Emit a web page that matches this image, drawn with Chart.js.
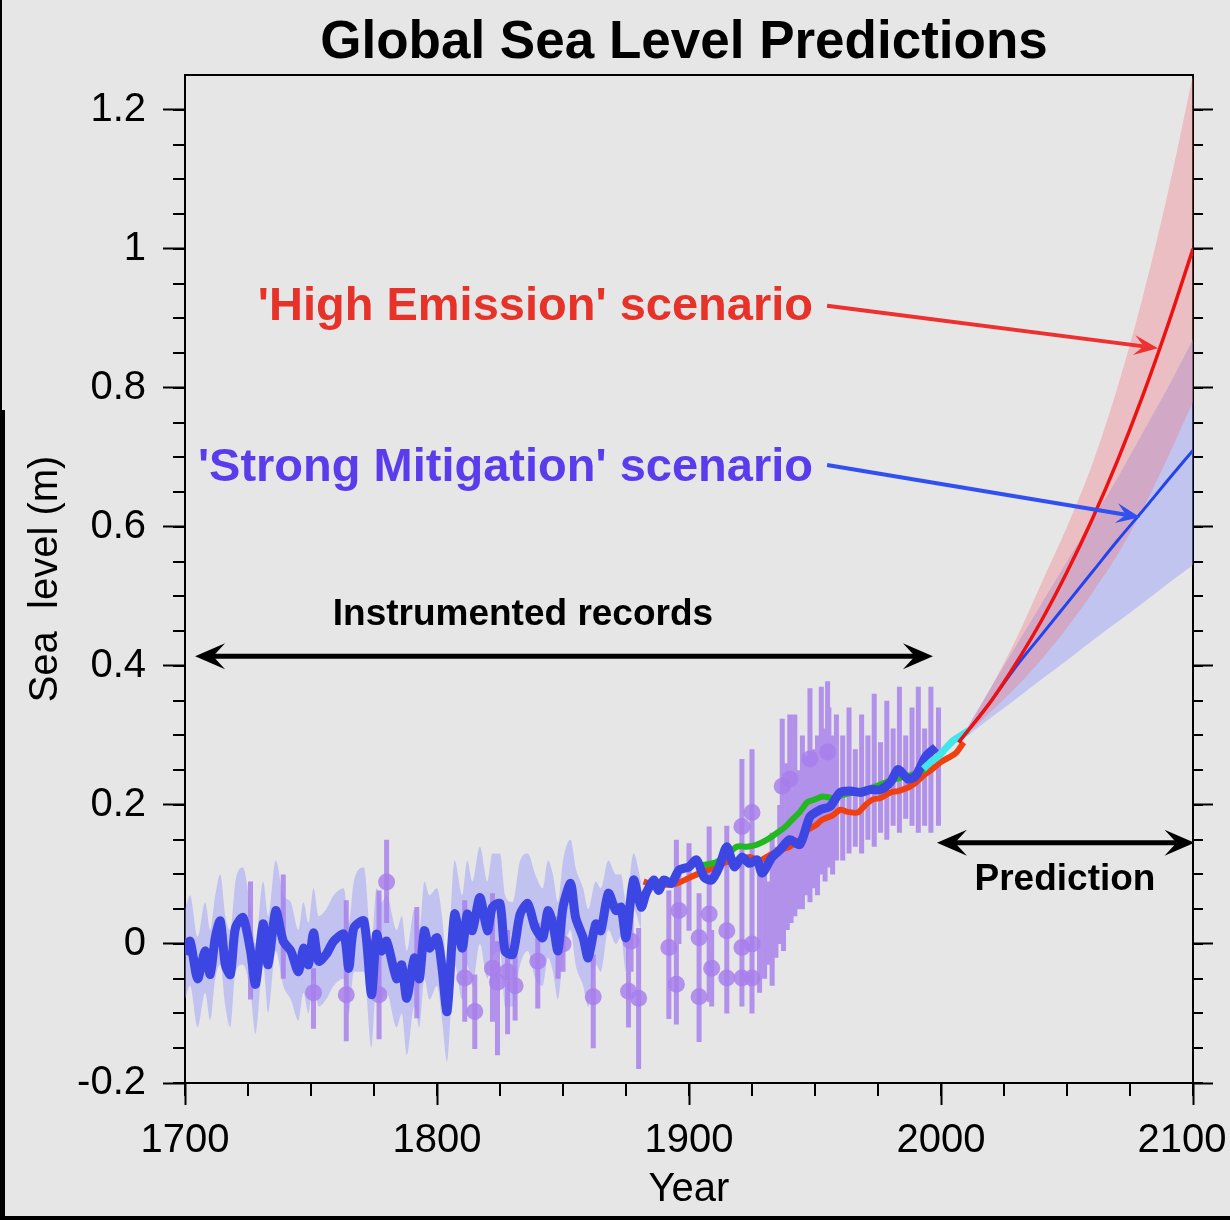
<!DOCTYPE html>
<html>
<head>
<meta charset="utf-8">
<title>Global Sea Level Predictions</title>
<script src="https://cdn.jsdelivr.net/npm/chart.js@4.4.1/dist/chart.umd.min.js"></script>
<style>
  html, body { margin: 0; padding: 0; background: #e6e6e6; }
  canvas { display: block; }
</style>
</head>
<body>
<canvas id="seaChart" width="1230" height="1220"></canvas>
<script>
// reconstruction + tide gauge (thick blue)
const blueYears = [1700,1702,1705,1708,1710,1712,1714,1716,1718,1720,1723,1726,1728,1731,1733,1736,1739,1742,1745,1747,1749,1751,1753,1756,1759,1763,1765,1767,1771,1774,1776,1778,1780,1784,1786,1788,1791,1793,1795,1797,1800,1802,1804,1807,1810,1812,1814,1817,1820,1822,1825,1827,1830,1833,1836,1839,1842,1844,1846,1848,1850,1853,1855,1858,1860,1863,1865,1868,1871,1873,1875,1878,1881,1883,1886,1888,1890,1893,1896,1900,1903,1906,1909,1912,1915,1918,1921,1924,1927,1929,1933,1936,1940,1944,1948,1952,1956,1960,1964,1968,1972,1976,1980,1983,1987,1990,1994,1998];
const blueLevel = [-0.015,0.004,-0.05,-0.01,-0.044,0.009,0.033,-0.03,-0.044,0.023,0.038,-0.01,-0.058,0.029,-0.03,0.048,0.004,-0.01,-0.04,-0.006,-0.03,0.016,-0.025,-0.015,0.004,0.014,-0.035,0.023,0.033,-0.073,0.014,-0.01,0.004,-0.05,-0.03,-0.078,-0.02,-0.05,0.019,-0.006,0.009,-0.035,-0.097,0.043,-0.006,0.043,0.019,0.067,0.019,0.053,0.058,-0.01,-0.015,0.043,0.058,0.023,0.009,0.048,0.029,-0.01,0.053,0.087,0.038,0.009,-0.02,0.029,0.019,0.073,0.048,0.053,0.009,0.092,0.053,0.073,0.092,0.077,0.092,0.087,0.106,0.111,0.121,0.096,0.092,0.111,0.14,0.111,0.125,0.116,0.121,0.102,0.125,0.135,0.15,0.143,0.183,0.193,0.198,0.218,0.22,0.218,0.222,0.222,0.233,0.251,0.237,0.242,0.27,0.283];

// uncertainty band of the reconstruction
const bandYears = [1700,1702,1705,1708,1710,1712,1714,1716,1718,1720,1723,1726,1728,1731,1733,1736,1739,1742,1745,1747,1749,1751,1753,1756,1759,1763,1765,1767,1771,1774,1776,1778,1780,1784,1786,1788,1791,1793,1795,1797,1800,1802,1804,1807,1810,1812,1814,1817,1820,1822,1825,1827,1830,1833,1836,1839,1842,1844,1846,1848,1850,1853,1855,1858,1860,1863,1865,1868,1871,1873,1875,1878,1881];
const bandHigh = [0.05,0.07,0.01,0.06,0.02,0.07,0.10,0.04,0.02,0.09,0.11,0.05,0.00,0.09,0.04,0.12,0.07,0.06,0.02,0.06,0.03,0.08,0.04,0.05,0.07,0.08,0.03,0.09,0.11,0.00,0.08,0.06,0.07,0.02,0.04,-0.01,0.05,0.02,0.09,0.07,0.08,0.04,-0.03,0.12,0.07,0.12,0.09,0.14,0.09,0.13,0.13,0.07,0.06,0.12,0.13,0.10,0.08,0.12,0.10,0.06,0.12,0.15,0.11,0.08,0.05,0.09,0.08,0.12,0.10,0.10,0.06,0.13,0.09];
const bandLow = [-0.08,-0.06,-0.12,-0.07,-0.11,-0.05,-0.03,-0.09,-0.12,-0.04,-0.03,-0.07,-0.13,-0.03,-0.10,-0.01,-0.06,-0.08,-0.11,-0.07,-0.10,-0.05,-0.09,-0.08,-0.06,-0.05,-0.10,-0.04,-0.04,-0.15,-0.06,-0.08,-0.07,-0.12,-0.10,-0.16,-0.09,-0.12,-0.05,-0.08,-0.06,-0.11,-0.17,-0.03,-0.08,-0.03,-0.06,0.00,-0.05,-0.02,-0.01,-0.09,-0.09,-0.03,-0.01,-0.05,-0.06,-0.02,-0.04,-0.08,-0.02,0.02,-0.03,-0.06,-0.09,-0.03,-0.04,0.02,0.00,0.01,-0.04,0.05,0.02];

// other tide gauge / satellite records
const orangeYears = [1882,1886,1890,1895,1900,1905,1910,1915,1920,1924,1928,1933,1937,1940,1944,1947,1950,1953,1957,1960,1963,1967,1970,1973,1976,1980,1983,1987,1990,1993,1996,2000,2003,2006,2009];
const orangeLevel = [0.09,0.085,0.085,0.087,0.095,0.103,0.11,0.118,0.12,0.125,0.12,0.13,0.136,0.14,0.15,0.164,0.17,0.179,0.185,0.193,0.19,0.189,0.2,0.208,0.21,0.218,0.22,0.225,0.232,0.242,0.25,0.262,0.268,0.275,0.29];
const greenYears = [1904,1908,1911,1915,1919,1923,1927,1931,1935,1938,1941,1944,1947,1950,1953,1957,1960,1965,1970,1975,1980,1985,1990,1994];
const greenLevel = [0.113,0.115,0.118,0.128,0.14,0.14,0.143,0.15,0.16,0.168,0.179,0.19,0.204,0.208,0.212,0.21,0.213,0.218,0.222,0.228,0.235,0.24,0.245,0.252];
const cyanYears = [1993,1996,1999,2002,2005,2008,2011];
const cyanLevel = [0.252,0.262,0.27,0.282,0.293,0.3,0.307];

// proxy data: points with error bars
const dotYears = [1751,1764,1777,1780,1811,1815,1822,1824,1828,1831,1840,1850,1862,1876,1877,1880,1892,1895,1896,1904,1904,1908,1909,1915,1915,1921,1921,1921,1925,1925,1925,1937,1940,1948,1955];
const dotLevel = [-0.07,-0.073,-0.073,0.089,-0.049,-0.097,-0.035,-0.055,-0.04,-0.06,-0.025,0.0,-0.076,-0.068,0.004,-0.078,-0.005,-0.058,0.048,-0.076,0.009,0.043,-0.035,0.019,-0.049,0.169,-0.005,-0.049,0.189,0.0,-0.049,0.227,0.237,0.266,0.276];
const dotLow = [-0.122,-0.14,-0.137,0.03,-0.112,-0.151,-0.112,-0.16,-0.13,-0.11,-0.093,-0.04,-0.15,-0.12,-0.04,-0.18,-0.108,-0.116,0.0,-0.141,-0.03,-0.083,-0.09,-0.1,-0.1,-0.09,-0.05,-0.09,-0.1,-0.04,-0.09,0.14,0.15,0.073,0.116];
const dotHigh = [-0.035,0.063,0.077,0.15,0.063,-0.044,0.073,0.004,0.02,0.0,0.03,0.04,-0.015,0.009,0.05,0.023,0.077,0.15,0.11,0.073,0.05,0.169,0.02,0.17,0.0,0.266,0.04,0.0,0.28,0.04,0.0,0.324,0.33,0.368,0.378];
// proxy error bars without a visible marker
const barYears = [1726,1739,1792,1848,1900,1928,1930,1931.5,1933,1934.5,1936,1937.5,1939,1940.5,1942,1943.5,1945,1946.5,1948,1949.5,1951,1952.5,1954,1955.5,1957,1958.5,1961,1963.5,1966,1968.5,1971,1973.5,1976,1978.5,1981,1983.5,1986,1988.5,1991,1993.5,1996,1999];
const barLow = [-0.08,-0.05,-0.107,-0.05,0.019,-0.07,-0.05,-0.03,-0.06,-0.02,0.00,-0.01,0.02,0.03,0.04,0.05,0.05,0.07,0.06,0.08,0.07,0.10,0.09,0.11,0.10,0.12,0.12,0.13,0.14,0.13,0.15,0.14,0.16,0.15,0.17,0.16,0.18,0.17,0.16,0.17,0.16,0.17];
const barHigh = [0.09,0.10,0.053,0.04,0.145,0.10,0.12,0.09,0.16,0.14,0.20,0.17,0.26,0.22,0.33,0.25,0.30,0.27,0.35,0.28,0.30,0.37,0.31,0.34,0.30,0.33,0.30,0.34,0.28,0.33,0.30,0.36,0.29,0.35,0.31,0.37,0.30,0.34,0.37,0.31,0.37,0.34];

// projections to 2100
const projYears = [2007,2020,2030,2040,2050,2060,2070,2080,2090,2100];
const highEmission = [0.29,0.35,0.405,0.466,0.535,0.611,0.695,0.788,0.89,1.0];
const highLow = [0.29,0.335,0.37,0.41,0.455,0.505,0.56,0.625,0.70,0.78];
const highHigh = [0.29,0.37,0.44,0.52,0.60,0.69,0.80,0.93,1.08,1.25];
const mitigation = [0.29,0.35,0.40,0.445,0.49,0.535,0.58,0.623,0.667,0.71];
const mitLow = [0.29,0.326,0.353,0.381,0.408,0.436,0.463,0.49,0.518,0.545];
const mitHigh = [0.29,0.37,0.43,0.49,0.55,0.61,0.67,0.735,0.80,0.87];

const FONT = '"Liberation Sans", Arial, Helvetica, sans-serif';
Chart.defaults.font.family = FONT;
Chart.defaults.color = '#000';

function pts(xs, ys) {
    return xs.map((x, i) => ({x: x, y: ys[i]}));
}

function errorSegments() {
    const out = [];
    dotYears.forEach((x, i) => {
        out.push({x: x, y: dotLow[i]}, {x: x, y: dotHigh[i]}, {x: x, y: null});
    });
    barYears.forEach((x, i) => {
        out.push({x: x, y: barLow[i]}, {x: x, y: barHigh[i]}, {x: x, y: null});
    });
    return out;
}

function plainLine(data, color, width, order, smooth) {
    return {
        data: data,
        borderColor: color,
        borderWidth: width,
        pointRadius: 0,
        tension: 0.25,
        cubicInterpolationMode: smooth ? 'monotone' : 'default',
        fill: false,
        order: order
    };
}

function bandEdge(data, fill, color, order) {
    return {
        data: data,
        borderWidth: 0,
        borderColor: 'rgba(0,0,0,0)',
        backgroundColor: color,
        pointRadius: 0,
        tension: 0.2,
        cubicInterpolationMode: 'monotone',
        fill: fill,
        order: order
    };
}

function arrow(ctx, x1, y1, x2, y2, color, width, head, half, both) {
    const ang = Math.atan2(y2 - y1, x2 - x1);
    ctx.strokeStyle = color;
    ctx.fillStyle = color;
    ctx.lineWidth = width;
    ctx.beginPath();
    ctx.moveTo(x1 + (both ? Math.cos(ang) * head * 0.6 : 0), y1 + (both ? Math.sin(ang) * head * 0.6 : 0));
    ctx.lineTo(x2 - Math.cos(ang) * head * 0.6, y2 - Math.sin(ang) * head * 0.6);
    ctx.stroke();
    const tip = (tx, ty, a) => {
        ctx.beginPath();
        ctx.moveTo(tx, ty);
        ctx.lineTo(tx - head * Math.cos(a) + half * Math.sin(a), ty - head * Math.sin(a) - half * Math.cos(a));
        ctx.lineTo(tx - head * 0.6 * Math.cos(a), ty - head * 0.6 * Math.sin(a));
        ctx.lineTo(tx - head * Math.cos(a) - half * Math.sin(a), ty - head * Math.sin(a) + half * Math.cos(a));
        ctx.closePath();
        ctx.fill();
    };
    tip(x2, y2, ang);
    if (both) tip(x1, y1, ang + Math.PI);
}

const decorPlugin = {
    id: 'decor',
    beforeDraw(chart) {
        const ctx = chart.ctx;
        ctx.save();
        ctx.fillStyle = '#e6e6e6';
        ctx.fillRect(0, 0, chart.width, chart.height);
        ctx.restore();
    },
    afterDraw(chart) {
        const ctx = chart.ctx;
        const xs = chart.scales.x, ys = chart.scales.y, yr = chart.scales.yR;
        const area = chart.chartArea;
        ctx.save();

        // minor ticks
        ctx.strokeStyle = '#000';
        ctx.lineWidth = 2;
        ctx.beginPath();
        for (let k = 0; k <= 16; k++) {
            const px = Math.round(xs.getPixelForValue(1700 + k * 25));
            ctx.moveTo(px, xs.top);
            ctx.lineTo(px, xs.top + 13);
        }
        for (let k = 0; k <= 28; k++) {
            const py = Math.round(ys.getPixelForValue(-0.2 + k * 0.05));
            ctx.moveTo(ys.right - 12, py);
            ctx.lineTo(ys.right, py);
            ctx.moveTo(yr.left, py);
            ctx.lineTo(yr.left + 10, py);
        }
        ctx.stroke();

        // title
        ctx.fillStyle = '#000';
        ctx.font = 'bold 53px ' + FONT;
        ctx.textAlign = 'center';
        ctx.textBaseline = 'alphabetic';
        ctx.fillText('Global Sea Level Predictions', (area.left + area.right) / 2 - 5, 58);

        // period arrows
        arrow(ctx, xs.getPixelForValue(1704), ys.getPixelForValue(0.414),
            xs.getPixelForValue(1996.8), ys.getPixelForValue(0.414), '#000', 5, 30, 13, true);
        arrow(ctx, xs.getPixelForValue(1998.4), ys.getPixelForValue(0.1456),
            xs.getPixelForValue(2100.6), ys.getPixelForValue(0.1456), '#000', 5, 30, 13, true);

        ctx.font = 'bold 37px ' + FONT;
        ctx.fillStyle = '#000';
        ctx.textAlign = 'center';
        ctx.fillText('Instrumented records', xs.getPixelForValue(1834.1), ys.getPixelForValue(0.4585));
        ctx.fillText('Prediction', xs.getPixelForValue(2049.2), ys.getPixelForValue(0.078));

        // scenario labels
        ctx.font = 'bold 47px ' + FONT;
        ctx.textAlign = 'right';
        ctx.fillStyle = '#e63228';
        ctx.fillText("'High Emission' scenario", xs.getPixelForValue(1949.2), ys.getPixelForValue(0.897));
        ctx.fillStyle = '#5a3cec';
        ctx.fillText("'Strong Mitigation' scenario", xs.getPixelForValue(1949.2), ys.getPixelForValue(0.666));

        arrow(ctx, xs.getPixelForValue(1954.8), ys.getPixelForValue(0.918),
            xs.getPixelForValue(2086.1), ys.getPixelForValue(0.857), '#ee3030', 4, 24, 10, false);
        arrow(ctx, xs.getPixelForValue(1954.8), ys.getPixelForValue(0.689),
            xs.getPixelForValue(2079), ys.getPixelForValue(0.614), '#3050f0', 4, 24, 10, false);

        // image frame
        ctx.fillStyle = '#000';
        ctx.fillRect(0, 0, 2, 410);
        ctx.fillRect(0, 410, 5, chart.height - 410);
        ctx.fillRect(0, chart.height - 4, chart.width, 4);
        ctx.restore();
    }
};

const PURPLE = 'rgba(166,126,236,0.82)';

const datasets = [
    bandEdge(pts(bandYears, bandLow), false, 'rgba(0,0,0,0)', 20),
    bandEdge(pts(bandYears, bandHigh), '-1', 'rgba(150,150,255,0.45)', 20),
    bandEdge(pts(projYears, mitLow), false, 'rgba(0,0,0,0)', 19),
    bandEdge(pts(projYears, mitHigh), '-1', 'rgba(140,150,250,0.42)', 19),
    bandEdge(pts(projYears, highLow), false, 'rgba(0,0,0,0)', 18),
    bandEdge(pts(projYears, highHigh), '-1', 'rgba(240,120,130,0.36)', 18),
    {
        data: errorSegments(),
        borderColor: PURPLE,
        borderWidth: 5,
        borderCapStyle: 'butt',
        pointRadius: 0,
        spanGaps: false,
        tension: 0,
        fill: false,
        order: 15
    },
    {
        data: pts(dotYears, dotLevel),
        showLine: false,
        pointRadius: 8.5,
        pointBorderWidth: 0,
        pointBackgroundColor: PURPLE,
        order: 14
    },
    plainLine(pts(orangeYears, orangeLevel), '#f04010', 6, 6),
    plainLine(pts(greenYears, greenLevel), '#22b822', 6, 5),
    plainLine(pts(blueYears, blueLevel), '#3c46e2', 9, 4),
    plainLine(pts(cyanYears, cyanLevel), '#40e6ea', 7, 3),
    plainLine(pts(projYears, highEmission), '#ee1111', 3.5, 1, true),
    plainLine(pts(projYears, mitigation), '#2244ee', 3, 2, true)
];

new Chart(document.getElementById('seaChart'), {
    type: 'line',
    data: { datasets: datasets },
    options: {
        responsive: false,
        animation: false,
        events: [],
        layout: { padding: { top: 75, left: 0, right: 0, bottom: 0 } },
        plugins: {
            legend: { display: false },
            tooltip: { enabled: false }
        },
        scales: {
            x: {
                type: 'linear',
                position: 'bottom',
                min: 1700,
                max: 2100,
                offset: false,
                grid: { offset: false, drawOnChartArea: false, tickLength: 22, tickWidth: 2, tickColor: '#000' },
                border: { display: true, color: '#000', width: 2 },
                ticks: {
                    stepSize: 100,
                    autoSkip: false,
                    maxRotation: 0,
                    padding: 12,
                    font: { size: 40 },
                    color: '#000',
                    callback: v => v === 2100 ? '2100  ' : String(v)
                },
                title: { display: true, text: 'Year', font: { size: 40 }, color: '#000', padding: { top: 0, bottom: 6 } },
                afterFit: s => { s.height = 137; s.paddingLeft = 0; s.paddingRight = 0; }
            },
            xTop: {
                type: 'linear',
                position: 'top',
                min: 1700,
                max: 2100,
                grid: { display: false, drawTicks: false },
                border: { display: true, color: '#000', width: 2 },
                ticks: { display: false },
                afterFit: s => { s.height = 0; s.paddingLeft = 0; s.paddingRight = 0; }
            },
            y: {
                type: 'linear',
                position: 'left',
                min: -0.2,
                max: 1.25,
                grid: { drawOnChartArea: false, tickLength: 22, tickWidth: 2, tickColor: '#000' },
                border: { display: true, color: '#000', width: 2 },
                ticks: {
                    stepSize: 0.2,
                    includeBounds: false,
                    padding: 17,
                    font: { size: 40 },
                    color: '#000',
                    callback: v => String(+v.toFixed(2))
                },
                title: { display: true, text: 'Sea  level (m)', font: { size: 40 }, color: '#000', padding: { top: 22, bottom: 0 } },
                afterFit: s => { s.width = 185; s.paddingTop = 0; s.paddingBottom = 0; }
            },
            yR: {
                type: 'linear',
                position: 'right',
                min: -0.2,
                max: 1.25,
                grid: { drawOnChartArea: false, tickLength: 20, tickWidth: 2, tickColor: '#000' },
                border: { display: true, color: '#000', width: 2 },
                ticks: {
                    stepSize: 0.2,
                    includeBounds: false,
                    padding: 0,
                    font: { size: 10 },
                    callback: () => ''
                },
                afterFit: s => { s.width = 37; s.paddingTop = 0; s.paddingBottom = 0; }
            }
        }
    },
    plugins: [decorPlugin]
});
</script>
</body>
</html>
